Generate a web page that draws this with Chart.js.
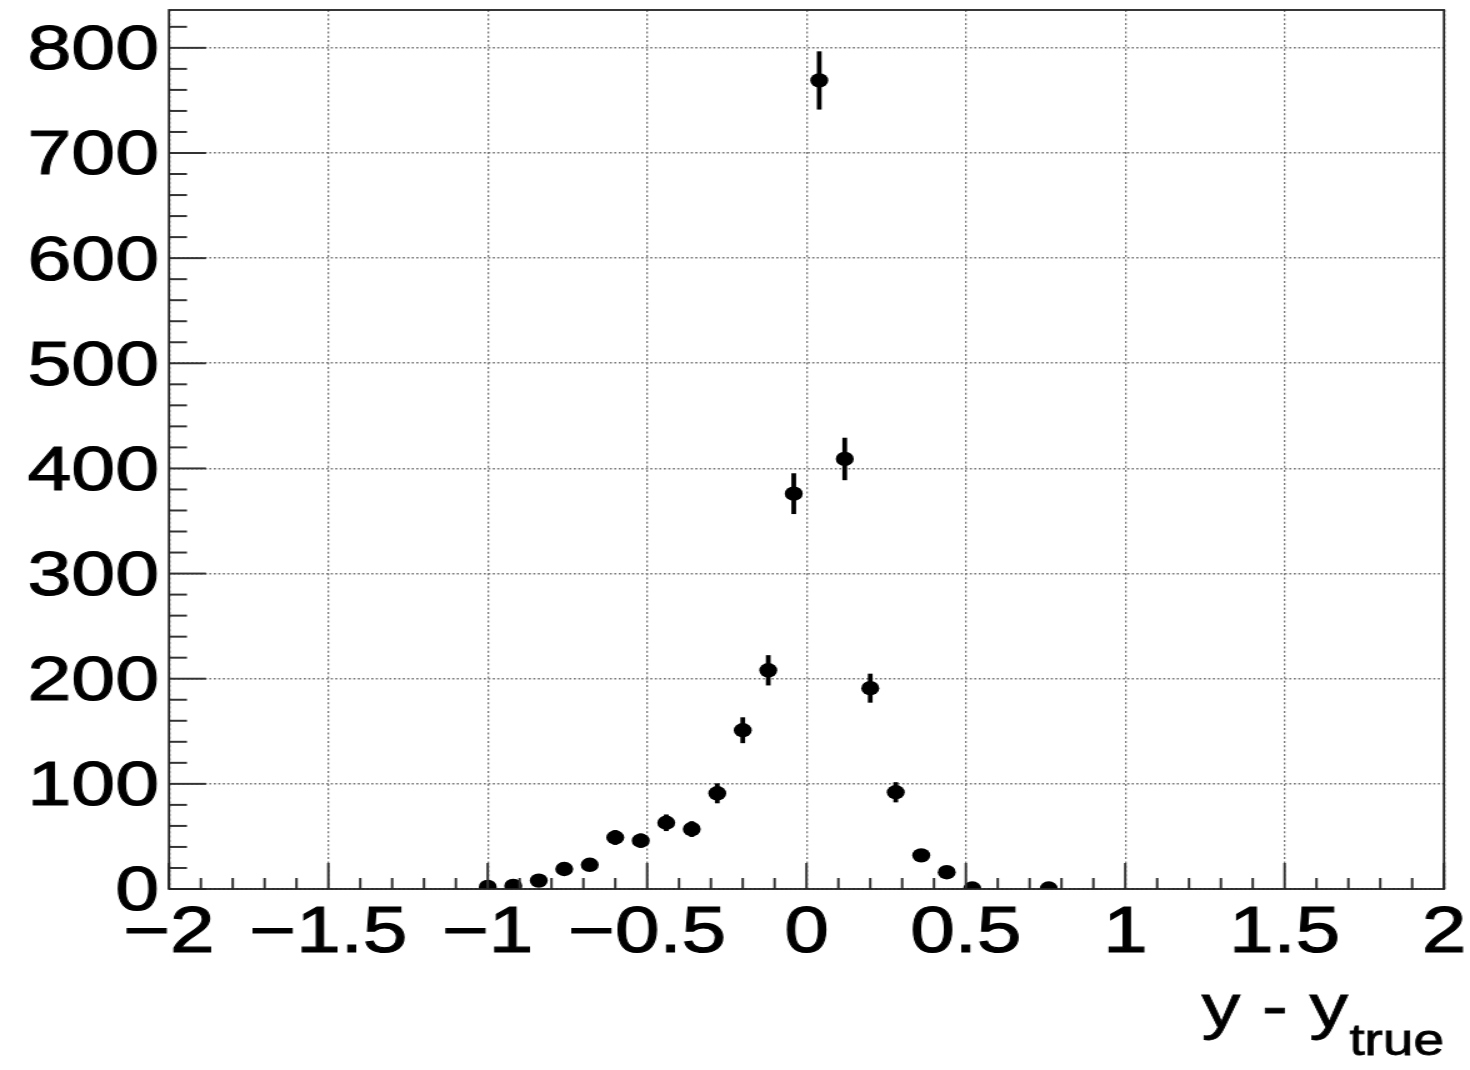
<!DOCTYPE html>
<html>
<head>
<meta charset="utf-8">
<script src="https://cdn.jsdelivr.net/npm/chart.js@4.4.1/dist/chart.umd.min.js"></script>
<style>
  html, body { margin: 0; padding: 0; background: #fff; }
  #wrap { width: 1470px; height: 1070px; }
</style>
</head>
<body>
<div id="wrap">
  <!-- drawn narrower, then stretched sideways like the original picture -->
  <canvas id="myChart" width="1176" height="1070" style="width:1470px;height:1070px;display:block"></canvas>
</div>
<script>
// bin centres (y - y_true), bin contents and their errors
const binCenters = [-1.00, -0.92, -0.84, -0.76, -0.68, -0.60, -0.52, -0.44, -0.36, -0.28,
  -0.20, -0.12, -0.04, 0.04, 0.12, 0.20, 0.28, 0.36, 0.44, 0.52, 0.76];
const counts = [2, 3, 8, 19, 23, 49, 46, 63, 57, 91,
  151, 208, 376, 769, 409, 191, 92, 32, 16, 0.5, 0.5];
const errors = [1.4, 1.7, 2.8, 4.4, 4.8, 7.0, 6.8, 7.9, 7.5, 9.5,
  12.3, 14.4, 19.4, 27.7, 20.2, 13.8, 9.6, 5.7, 4.0, 0.7, 0.7];

const xMin = -2, xMax = 2, xStep = 0.5, xMinorStep = 0.1;
const yMin = 0, yMax = 836, yStep = 100, yMinorStep = 20;

const axisTitle = "y - y";
const axisTitleSub = "true";

const FONT = "'Liberation Sans', Arial, Helvetica, sans-serif";

function formatTick(v) {
  let s = String(Math.round(v * 100) / 100);
  return s.replace("-", "\u2212");
}

const errorBars = {
  id: "errorBars",
  beforeDatasetsDraw(chart) {
    const ctx = chart.ctx;
    const xs = chart.scales.x, ys = chart.scales.y;
    ctx.save();
    ctx.strokeStyle = "#000";
    ctx.lineWidth = 3.8;
    for (let i = 0; i < binCenters.length; i++) {
      const px = xs.getPixelForValue(binCenters[i]);
      const top = ys.getPixelForValue(counts[i] + errors[i]);
      const bot = ys.getPixelForValue(Math.max(counts[i] - errors[i], 0));
      ctx.beginPath();
      ctx.moveTo(px, top);
      ctx.lineTo(px, bot);
      ctx.stroke();
    }
    ctx.restore();
  }
};

const rootFrame = {
  id: "rootFrame",
  afterDraw(chart) {
    const ctx = chart.ctx;
    const a = chart.chartArea;
    const xs = chart.scales.x, ys = chart.scales.y;
    ctx.save();
    ctx.strokeStyle = "#333";
    ctx.lineWidth = 2;
    // x ticks, inside the frame
    for (let v = xMin; v <= xMax + 1e-9; v += xMinorStep) {
      const r = Math.round(v * 10) / 10;
      const major = Math.abs(r / xStep - Math.round(r / xStep)) < 1e-6;
      const px = xs.getPixelForValue(r);
      ctx.beginPath();
      ctx.moveTo(px, a.bottom);
      ctx.lineTo(px, a.bottom - (major ? 26 : 11));
      ctx.stroke();
    }
    // y ticks
    for (let v = yMin; v <= yMax; v += yMinorStep) {
      const major = v % yStep === 0;
      const py = ys.getPixelForValue(v);
      ctx.beginPath();
      ctx.moveTo(a.left, py);
      ctx.lineTo(a.left + (major ? 29.6 : 14.4), py);
      ctx.stroke();
    }
    // frame
    ctx.strokeStyle = "#222";
    ctx.lineWidth = 1.8;
    ctx.strokeRect(a.left, a.top, a.right - a.left, a.bottom - a.top);

    // axis title with subscript, right aligned to the frame
    ctx.fillStyle = "#000";
    ctx.strokeStyle = "#000";
    ctx.lineWidth = 0.8;
    ctx.textAlign = "left";
    ctx.textBaseline = "alphabetic";
    ctx.font = "44px " + FONT;
    const subW = ctx.measureText(axisTitleSub).width;
    ctx.font = "62px " + FONT;
    const mainW = ctx.measureText(axisTitle).width;
    const right = a.right;
    const mx = right - subW - mainW - 1;
    ctx.fillText(axisTitle, mx, 1027);
    ctx.strokeText(axisTitle, mx, 1027);
    ctx.font = "44px " + FONT;
    ctx.fillText(axisTitleSub, right - subW, 1055);
    ctx.strokeText(axisTitleSub, right - subW, 1055);
    ctx.restore();
  }
};

const chartInsertion = document.getElementById("myChart").getContext("2d");
const histChart = new Chart(chartInsertion, {
  type: "scatter",
  data: {
    datasets: [
      {
        label: "hist",
        data: binCenters.map((x, i) => ({ x: x, y: counts[i] })),
        backgroundColor: "#000",
        borderColor: "#000",
        borderWidth: 0,
        pointRadius: 7.2,
        pointHoverRadius: 7.2,
      },
    ],
  },
  options: {
    responsive: false,
    animation: false,
    devicePixelRatio: 1,
    layout: { padding: { left: 0, right: 20.8, top: 10, bottom: 0 } },
    plugins: { legend: { display: false }, tooltip: { enabled: false } },
    scales: {
      x: {
        type: "linear",
        min: xMin,
        max: xMax,
        afterFit(scale) {
          scale.height = 181;
          scale.paddingLeft = 0;
          scale.paddingRight = 0;
        },
        ticks: {
          stepSize: xStep,
          includeBounds: false,
          maxRotation: 0,
          autoSkip: false,
          padding: 7,
          color: "#000",
          textStrokeColor: "#000",
          textStrokeWidth: 1.1,
          font: { family: FONT, size: 64 },
          callback: (v) => formatTick(v),
        },
        grid: { color: "#787878", lineWidth: 1.3, drawTicks: false },
        border: { display: false, dash: [2, 2.3] },
      },
      y: {
        type: "linear",
        min: yMin,
        max: yMax,
        afterFit(scale) {
          scale.width = 135.2;
          scale.paddingTop = 0;
          scale.paddingBottom = 0;
        },
        ticks: {
          stepSize: yStep,
          includeBounds: false,
          autoSkip: false,
          padding: 8,
          labelOffset: 4,
          color: "#000",
          textStrokeColor: "#000",
          textStrokeWidth: 1.1,
          font: { family: FONT, size: 63 },
          callback: (v) => formatTick(v),
        },
        grid: { color: "#787878", lineWidth: 1.6, drawTicks: false },
        border: { display: false, dash: [1.7, 1.9] },
      },
    },
  },
  plugins: [errorBars, rootFrame],
});
</script>
</body>
</html>
